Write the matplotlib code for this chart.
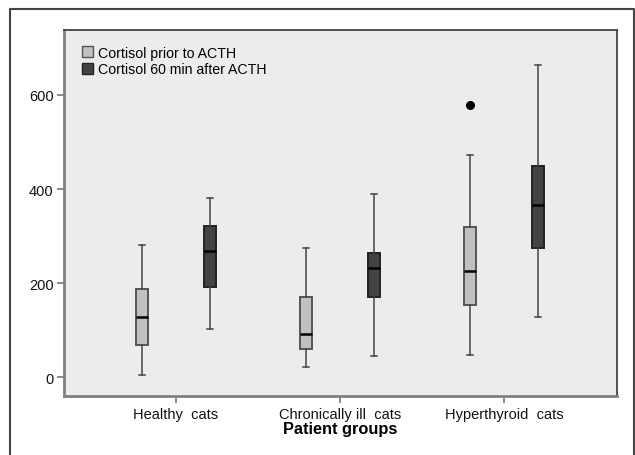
import matplotlib
matplotlib.use("Agg")
import matplotlib.pyplot as plt
from matplotlib.lines import Line2D
from matplotlib.patches import Patch

plt.rcParams['font.family'] = ['Liberation Sans', 'DejaVu Sans']

# ---- data ----
groups = ["Healthy  cats", "Chronically ill  cats", "Hyperthyroid  cats"]
series = ["Cortisol prior to ACTH", "Cortisol 60 min after ACTH"]

pre_whislo = [4, 22, 47]
pre_q1 = [69, 60, 154]
pre_med = [127, 92, 226]
pre_q3 = [188, 171, 320]
pre_whishi = [281, 274, 472]
pre_fliers = [[], [], [579]]

post_whislo = [102, 44, 127]
post_q1 = [191, 171, 274]
post_med = [268, 233, 367]
post_q3 = [322, 263, 449]
post_whishi = [381, 390, 664]
post_fliers = [[], [], []]

yticks = [0, 200, 400, 600]

light = "#c0c0c0"
dark = "#434343"
bg = "#ececec"

fig = plt.figure(figsize=(6.35, 4.56), dpi=100)
ax = fig.add_axes([64/635, 59/456, 553/635, 366/456])
ax.set_facecolor(bg)

def stats(wl, q1, med, q3, wh, fl):
    return [dict(whislo=a, q1=b, med=c, q3=d, whishi=e, fliers=f)
            for a, b, c, d, e, f in zip(wl, q1, med, q3, wh, fl)]

offset = 0.207
width = 0.075
pos = list(range(len(groups)))
for st, color, edge, sign in [
        (stats(pre_whislo, pre_q1, pre_med, pre_q3, pre_whishi, pre_fliers), light, "#555555", -1),
        (stats(post_whislo, post_q1, post_med, post_q3, post_whishi, post_fliers), dark, "#222222", 1)]:
    ax.bxp(st, positions=[p + sign*offset for p in pos], widths=width,
           patch_artist=True, manage_ticks=False,
           boxprops=dict(facecolor=color, edgecolor=edge, linewidth=1.4),
           medianprops=dict(color="black", linewidth=1.8),
           whiskerprops=dict(color="#444444", linewidth=1.1),
           capprops=dict(color="#444444", linewidth=1.1),
           flierprops=dict(marker="o", markerfacecolor="black",
                           markeredgecolor="black", markersize=5.5))

ax.set_xlim(-0.683, 2.689)
ax.set_ylim(-40, 738)
ax.set_xticks(pos)
ax.set_xticklabels(groups, fontsize=10.5)
ax.set_yticks(yticks)
ax.set_yticklabels([str(v) for v in yticks], fontsize=10.5)
ax.tick_params(axis="both", direction="out", length=5, width=1.2,
               color="#777777", labelcolor="#111111")
ax.tick_params(axis="x", pad=3)
ax.tick_params(axis="y", pad=2.5)

for s in ["left", "bottom"]:
    ax.spines[s].set_color("#808080")
    ax.spines[s].set_linewidth(2.0)
for s in ["top", "right"]:
    ax.spines[s].set_color("#444444")
    ax.spines[s].set_linewidth(1.3)

ax.set_xlabel("Patient groups", fontsize=11.8, fontweight="bold", labelpad=0)

handles = [Patch(facecolor=light, edgecolor="#555555", linewidth=1.0),
           Patch(facecolor=dark, edgecolor="#222222", linewidth=1.0)]
leg = ax.legend(handles, series, loc="upper left", frameon=False,
                fontsize=10.2, handlelength=0.8, handleheight=0.8,
                handletextpad=0.35, labelspacing=0.2,
                borderaxespad=0.0, bbox_to_anchor=(0.022, 0.973))

# outer figure border (left, top, right)
fig.add_artist(Line2D([10/635, 10/635, 634/635, 634/635],
                      [0, 1 - 10/456, 1 - 10/456, 0],
                      transform=fig.transFigure, color="#444444", linewidth=1.5))

fig.savefig("out.png", dpi=100)
